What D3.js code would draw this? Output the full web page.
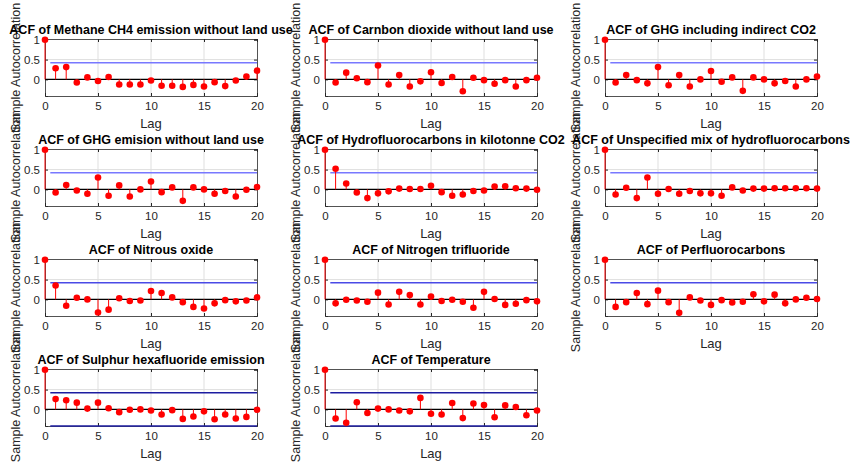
<!DOCTYPE html>
<html><head><meta charset="utf-8">
<script src="https://cdn.jsdelivr.net/npm/d3@7"></script>
<style>
html,body{margin:0;padding:0;background:#fff;}
svg{display:block;font-family:"Liberation Sans",Arial,Helvetica,sans-serif;}
</style></head>
<body>
<svg id="chart" width="852" height="465"></svg>
<script>
// ---- data ----
const lags = d3.range(0, 21);
const xTicks = [0, 5, 10, 15, 20];
const yTicks = [0, 0.5, 1];
const yTickLabels = ["0", "0.5", "1"];
const confBound = 0.42;

const titles = [
  "ACF of Methane CH4 emission without land use",
  "ACF of Carnbon dioxide without land use",
  "ACF of GHG including indirect CO2",
  "ACF of GHG emision without land use",
  "ACF of Hydrofluorocarbons in kilotonne CO2",
  "ACF of Unspecified mix of hydrofluorocarbons",
  "ACF of Nitrous oxide",
  "ACF of Nitrogen trifluoride",
  "ACF of Perfluorocarbons",
  "ACF of Sulphur hexafluoride emission",
  "ACF of Temperature"
];

const acfMethane = [1, 0.28, 0.31, -0.08, 0.05, -0.04, 0.06, -0.13, -0.13, -0.13, -0.03, -0.16, -0.16, -0.19, -0.14, -0.18, -0.07, -0.17, -0.03, 0.07, 0.22];
const acfCO2 = [1, -0.08, 0.17, 0.03, -0.07, 0.35, -0.13, 0.11, -0.18, -0.05, 0.18, -0.09, 0.06, -0.30, 0.04, -0.02, -0.11, -0.02, -0.18, -0.02, 0.04];
const acfGHGIndirect = [1, -0.08, 0.11, -0.02, -0.10, 0.31, -0.15, 0.11, -0.18, 0.0, 0.21, -0.06, 0.05, -0.29, 0.05, 0.0, -0.10, -0.04, -0.18, 0.0, 0.07];
const acfGHG = [1, -0.08, 0.11, -0.03, -0.11, 0.30, -0.16, 0.10, -0.18, 0.0, 0.20, -0.07, 0.05, -0.29, 0.05, 0.0, -0.11, -0.04, -0.18, -0.01, 0.06];
const acfHFC = [1, 0.52, 0.15, -0.08, -0.22, -0.10, -0.05, 0.02, 0.01, 0.01, 0.09, -0.07, -0.16, -0.13, -0.04, -0.03, 0.07, 0.08, 0.03, 0.02, -0.01];
const acfUnspecHFC = [1, -0.13, 0.04, -0.22, 0.30, -0.11, 0.01, -0.11, -0.04, -0.10, -0.10, -0.16, 0.05, -0.03, 0.02, 0.02, 0.03, 0.03, 0.03, 0.03, 0.02];
const acfN2O = [1, 0.35, -0.16, 0.04, 0.0, -0.33, -0.26, 0.03, -0.04, -0.03, 0.21, 0.16, 0.05, -0.07, -0.19, -0.23, -0.10, -0.02, -0.05, -0.03, 0.05];
const acfNF3 = [1, -0.10, -0.01, -0.03, -0.06, 0.17, -0.13, 0.19, 0.11, -0.13, 0.07, -0.04, -0.01, -0.06, -0.21, 0.19, 0.01, -0.14, -0.11, -0.02, -0.05];
const acfPFC = [1, -0.19, -0.07, 0.16, -0.12, 0.22, -0.07, -0.34, 0.05, -0.03, -0.14, -0.02, -0.08, -0.06, 0.13, -0.05, 0.12, -0.10, 0.0, 0.04, 0.01];
const acfSF6 = [1, 0.26, 0.23, 0.17, 0.02, 0.17, 0.03, -0.07, -0.01, 0.0, -0.03, -0.13, -0.02, -0.24, -0.18, -0.05, -0.25, -0.13, -0.23, -0.19, -0.01];
const acfTemp = [1, -0.23, -0.34, 0.18, -0.09, 0.02, 0.0, -0.03, -0.05, 0.29, -0.11, -0.13, 0.16, -0.22, 0.15, 0.11, -0.20, 0.10, 0.06, -0.15, -0.03];

const series = [acfMethane, acfCO2, acfGHGIndirect, acfGHG, acfHFC, acfUnspecHFC, acfN2O, acfNF3, acfPFC, acfSF6, acfTemp];

// ---- layout ----
const colX = [45, 325, 605];
const rowY = [39, 149, 259, 369];
const W = 212, H = 57;
const blueByRow = ["#7878ff", "#7878ff", "#4a4ae6", "#1c1ca0"];

const svg = d3.select("#chart");
const x = d3.scaleLinear().domain([0, 20]).range([0, W]);
const y = d3.scaleLinear().domain([-0.42, 1.02]).range([H, 0]);

series.forEach((vals, i) => {
  const r = Math.floor(i / 3), c = i % 3;
  const g = svg.append("g").attr("transform", `translate(${colX[c]},${rowY[r]})`);

  // y label (drawn first so titles sit on top)
  g.append("text").attr("transform", `translate(-25,${H / 2}) rotate(-90)`)
    .attr("text-anchor", "middle")
    .style("font-size", "12.5px").attr("fill", "#262626").text("Sample Autocorrelation");

  // grid
  g.selectAll(".gx").data(xTicks.slice(1, -1)).enter().append("line")
    .attr("x1", d => x(d)).attr("x2", d => x(d)).attr("y1", 0).attr("y2", H)
    .attr("stroke", "#dfdfdf").attr("stroke-width", 1);
  g.selectAll(".gy").data([0.5]).enter().append("line")
    .attr("x1", 0).attr("x2", W).attr("y1", d => y(d)).attr("y2", d => y(d))
    .attr("stroke", "#dfdfdf").attr("stroke-width", 1);

  // axes
  const xa = g.append("g").attr("transform", `translate(0,${H})`)
    .call(d3.axisBottom(x).tickValues(xTicks).tickSize(-3).tickPadding(6));
  const xt = g.append("g")
    .call(d3.axisTop(x).tickValues(xTicks).tickSize(-3).tickFormat(""));
  const ya = g.append("g")
    .call(d3.axisLeft(y).tickValues(yTicks).tickSize(-3).tickPadding(5)
      .tickFormat((d, k) => yTickLabels[k]));
  const yr = g.append("g").attr("transform", `translate(${W},0)`)
    .call(d3.axisRight(y).tickValues(yTicks).tickSize(-3).tickFormat(""));
  [xa, xt, ya, yr].forEach(a => {
    a.select(".domain").attr("stroke", "#262626").attr("stroke-width", 0.8);
    a.selectAll(".tick line").attr("stroke", "#262626");
    a.selectAll("text").attr("fill", "#262626").style("font-size", "11.5px")
      .style("font-family", "'Liberation Sans', Arial, sans-serif");
  });
  xa.selectAll("text").attr("dy", "0.71em");

  // confidence bounds
  g.append("line").attr("x1", x(0.5)).attr("x2", x(20))
    .attr("y1", y(confBound)).attr("y2", y(confBound))
    .attr("stroke", blueByRow[r]).attr("stroke-width", 1.3);
  if (r === 3) {
    g.append("line").attr("x1", x(0.5)).attr("x2", x(20))
      .attr("y1", y(-confBound)).attr("y2", y(-confBound))
      .attr("stroke", blueByRow[r]).attr("stroke-width", 1.3);
  }

  // zero line
  g.append("line").attr("x1", 0).attr("x2", W).attr("y1", y(0)).attr("y2", y(0))
    .attr("stroke", "#000").attr("stroke-width", 1.4);

  // stems
  g.selectAll(".stem").data(vals).enter().append("line")
    .attr("x1", (d, k) => x(lags[k])).attr("x2", (d, k) => x(lags[k]))
    .attr("y1", y(0)).attr("y2", d => y(d))
    .attr("stroke", "#ff0000").attr("stroke-width", 1);
  g.selectAll(".mk").data(vals).enter().append("circle")
    .attr("cx", (d, k) => x(lags[k])).attr("cy", d => y(d)).attr("r", 3.3)
    .attr("fill", "#ff0000");

  // title
  g.append("text").attr("x", W / 2).attr("y", -5.5).attr("text-anchor", "middle")
    .style("font-size", "12.5px").style("font-weight", "bold").attr("fill", "#000")
    .text(titles[i]);

  // x label
  g.append("text").attr("x", W / 2).attr("y", H + 32).attr("text-anchor", "middle")
    .style("font-size", "13px").attr("fill", "#262626").text("Lag");
});
</script>
</body></html>
